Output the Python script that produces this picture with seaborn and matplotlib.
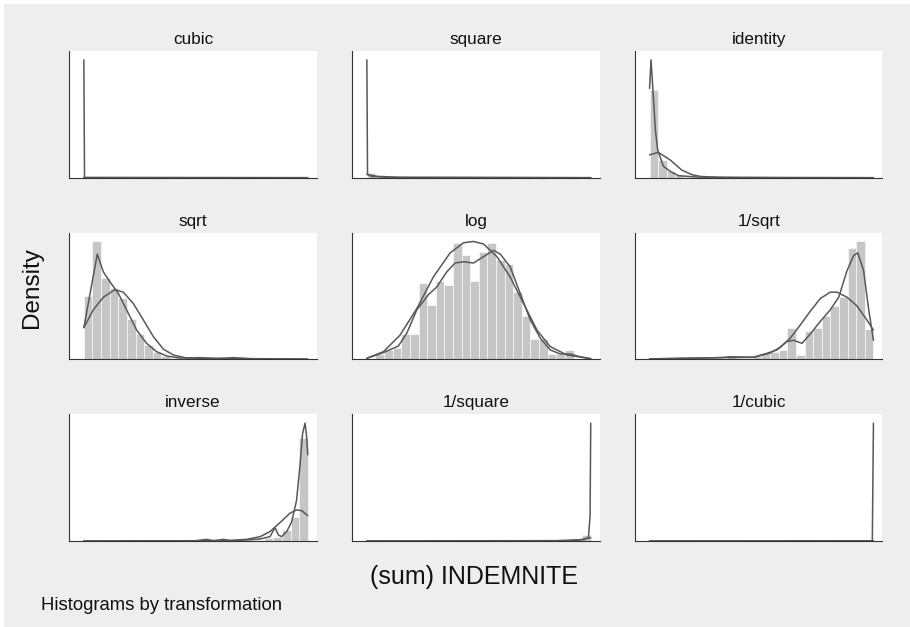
import matplotlib
matplotlib.use("Agg")
import matplotlib.pyplot as plt
import matplotlib.patches as mpatches
import numpy as np
import pandas as pd
import seaborn as sns

# panel order as in the reference grid
panels = ["cubic", "square", "identity", "sqrt", "log", "1/sqrt",
          "inverse", "1/square", "1/cubic"]

# histogram heights, 26 bins over the data range (share of panel height)
hist_cubic = [0, 0, 0, 0, 0, 0, 0, 0, 0, 0, 0, 0, 0,
              0, 0, 0, 0, 0, 0, 0, 0, 0, 0, 0, 0, 0]
hist_square = [0.037, 0.004, 0, 0, 0, 0, 0, 0, 0, 0, 0, 0, 0,
               0, 0, 0, 0, 0, 0, 0, 0, 0, 0, 0, 0, 0]
hist_identity = [0.69, 0.14, 0.05, 0.02, 0.008, 0.004, 0.003, 0.002, 0.001, 0.001, 0, 0, 0,
                 0, 0, 0, 0, 0, 0, 0, 0, 0, 0, 0, 0, 0]
hist_sqrt = [0.5, 0.93, 0.64, 0.56, 0.48, 0.32, 0.2, 0.11, 0.06, 0.026, 0.013, 0.005, 0.004,
             0.003, 0.008, 0.003, 0.002, 0.002, 0.006, 0.002, 0.001, 0.001, 0, 0, 0, 0]
hist_log = [0, 0.04, 0.07, 0.09, 0.2, 0.2, 0.6, 0.43, 0.62, 0.59, 0.92, 0.82, 0.62,
            0.85, 0.92, 0.78, 0.75, 0.53, 0.34, 0.16, 0.16, 0.04, 0.04, 0.07, 0, 0]
hist_isqrt = [0.002, 0.002, 0.002, 0.002, 0.002, 0.002, 0.002, 0.002, 0.01, 0.015, 0.01, 0.01, 0.025,
              0.047, 0.06, 0.074, 0.25, 0.034, 0.22, 0.25, 0.34, 0.42, 0.49, 0.88, 0.93, 0.24]
hist_inverse = [0, 0, 0, 0, 0, 0, 0, 0, 0, 0, 0, 0, 0,
                0, 0.002, 0.002, 0.003, 0.003, 0.003, 0.004, 0.008, 0.02, 0.034, 0.087, 0.19, 0.81]
hist_isquare = [0, 0, 0, 0, 0, 0, 0, 0, 0, 0, 0, 0, 0,
                0, 0, 0, 0, 0, 0, 0, 0, 0, 0, 0, 0.01, 0.05]
hist_icubic = [0, 0, 0, 0, 0, 0, 0, 0, 0, 0, 0, 0, 0,
               0, 0, 0, 0, 0, 0, 0, 0, 0, 0, 0, 0, 0]

# kernel density curves
kde_cubic_x = [0.0, 0.003, 0.05, 1.0]
kde_cubic_y = [0.93, 0.0, 0.0, 0.0]
kde_square_x = [0.0, 0.003, 0.02, 0.1, 1.0]
kde_square_y = [0.93, 0.03, 0.01, 0.002, 0.0]
kde_identity_x = [0.0, 0.0066, 0.017, 0.026, 0.036, 0.062, 0.092, 0.129, 0.211, 0.4, 0.7, 1.0]
kde_identity_y = [0.705, 0.93, 0.64, 0.376, 0.22, 0.09, 0.05, 0.016, 0.005, 0.002, 0.001, 0.0]
kde_sqrt_x = [0.0, 0.06, 0.087, 0.117, 0.154, 0.191, 0.236, 0.28, 0.325, 0.37, 0.429,
              0.519, 0.593, 0.668, 0.742, 1.0]
kde_sqrt_y = [0.25, 0.83, 0.69, 0.61, 0.52, 0.39, 0.23, 0.126, 0.06, 0.026, 0.01,
              0.013, 0.005, 0.013, 0.005, 0.002]
kde_log_x = [0.0, 0.074, 0.141, 0.178, 0.223, 0.275, 0.312, 0.357, 0.394, 0.432, 0.476, 0.521,
             0.566, 0.596, 0.64, 0.685, 0.73, 0.775, 0.819, 0.864, 0.909, 0.953, 1.0]
kde_log_y = [0.008, 0.053, 0.105, 0.205, 0.39, 0.51, 0.57, 0.69, 0.76, 0.77, 0.76, 0.81,
             0.86, 0.83, 0.73, 0.52, 0.31, 0.166, 0.074, 0.042, 0.042, 0.02, 0.005]
kde_isqrt_x = [0.0, 0.315, 0.36, 0.464, 0.524, 0.569, 0.613, 0.643, 0.681, 0.718, 0.763,
               0.807, 0.845, 0.882, 0.912, 0.93, 0.956, 0.979, 1.0]
kde_isqrt_y = [0.003, 0.013, 0.02, 0.016, 0.047, 0.074, 0.14, 0.15, 0.126, 0.2, 0.3,
               0.39, 0.49, 0.7, 0.82, 0.84, 0.7, 0.39, 0.15]
kde_inverse_x = [0.0, 0.5, 0.548, 0.58, 0.623, 0.66, 0.727, 0.787, 0.831, 0.854, 0.869,
                 0.883, 0.906, 0.928, 0.95, 0.965, 0.977, 0.988, 0.995, 1.0]
kde_inverse_y = [0.0, 0.002, 0.013, 0.002, 0.013, 0.002, 0.008, 0.016, 0.034, 0.105, 0.047,
                 0.034, 0.074, 0.15, 0.32, 0.59, 0.85, 0.93, 0.82, 0.68]
kde_isquare_x = [0.0, 0.9, 0.97, 0.99, 0.997, 1.0]
kde_isquare_y = [0.0, 0.002, 0.01, 0.03, 0.2, 0.93]
kde_icubic_x = [0.0, 0.995, 1.0]
kde_icubic_y = [0.0, 0.0, 0.93]

# normal density curves
norm_cubic_x = [0.0, 1.0]
norm_cubic_y = [0.002, 0.0]
norm_square_x = [0.0, 0.05, 0.15, 1.0]
norm_square_y = [0.025, 0.01, 0.003, 0.0]
norm_identity_x = [0.0, 0.039, 0.092, 0.144, 0.189, 0.226, 0.315, 0.6, 1.0]
norm_identity_y = [0.18, 0.2, 0.14, 0.06, 0.024, 0.01, 0.002, 0.0, 0.0]
norm_sqrt_x = [0.0, 0.042, 0.087, 0.139, 0.176, 0.221, 0.266, 0.31, 0.355, 0.4, 0.459, 1.0]
norm_sqrt_y = [0.25, 0.39, 0.49, 0.55, 0.53, 0.44, 0.31, 0.18, 0.08, 0.034, 0.01, 0.0]
norm_log_x = [0.0, 0.074, 0.148, 0.223, 0.297, 0.372, 0.432, 0.476, 0.521, 0.581, 0.64,
              0.7, 0.76, 0.819, 0.894, 1.0]
norm_log_y = [0.008, 0.06, 0.19, 0.4, 0.65, 0.84, 0.92, 0.93, 0.91, 0.81, 0.65,
              0.44, 0.23, 0.1, 0.034, 0.005]
norm_isqrt_x = [0.0, 0.315, 0.464, 0.539, 0.584, 0.628, 0.673, 0.718, 0.763, 0.807, 0.837,
                0.882, 0.927, 0.971, 1.0]
norm_isqrt_y = [0.003, 0.013, 0.016, 0.05, 0.095, 0.166, 0.27, 0.38, 0.48, 0.53, 0.53,
                0.49, 0.42, 0.31, 0.23]
norm_inverse_x = [0.0, 0.638, 0.727, 0.787, 0.831, 0.876, 0.921, 0.95, 0.973, 1.0]
norm_inverse_y = [0.0, 0.003, 0.013, 0.034, 0.074, 0.145, 0.22, 0.245, 0.24, 0.2]
norm_isquare_x = [0.0, 0.85, 0.95, 1.0]
norm_isquare_y = [0.0, 0.003, 0.01, 0.025]
norm_icubic_x = [0.0, 1.0]
norm_icubic_y = [0.0, 0.002]

hists = [hist_cubic, hist_square, hist_identity, hist_sqrt, hist_log,
         hist_isqrt, hist_inverse, hist_isquare, hist_icubic]
kdes = [(kde_cubic_x, kde_cubic_y), (kde_square_x, kde_square_y),
        (kde_identity_x, kde_identity_y), (kde_sqrt_x, kde_sqrt_y),
        (kde_log_x, kde_log_y), (kde_isqrt_x, kde_isqrt_y),
        (kde_inverse_x, kde_inverse_y), (kde_isquare_x, kde_isquare_y),
        (kde_icubic_x, kde_icubic_y)]
norms = [(norm_cubic_x, norm_cubic_y), (norm_square_x, norm_square_y),
         (norm_identity_x, norm_identity_y), (norm_sqrt_x, norm_sqrt_y),
         (norm_log_x, norm_log_y), (norm_isqrt_x, norm_isqrt_y),
         (norm_inverse_x, norm_inverse_y), (norm_isquare_x, norm_isquare_y),
         (norm_icubic_x, norm_icubic_y)]

sns.set_style("white")
plt.rcParams["font.family"] = ["Liberation Sans", "DejaVu Sans"]

W, H = 910, 627
fig = plt.figure(figsize=(W / 100, H / 100), dpi=100, facecolor="white")
fig.add_artist(mpatches.Rectangle((4 / W, 0), 1, 1 - 4 / H, transform=fig.transFigure,
                                  facecolor="#eeeeee", edgecolor="none", zorder=-10))

col_left = [69.3, 352.3, 635.0]
row_bottom = [177.7, 359.3, 541.0]
pw, ph = 247.4, 126.7

nbins = 26
centers = (np.arange(nbins) + 0.5) / nbins
line_color = "#585858"

for i, name in enumerate(panels):
    r, c = divmod(i, 3)
    ax = fig.add_axes([col_left[c] / W, 1 - row_bottom[r] / H, pw / W, ph / H])
    ax.set_facecolor("white")
    if sum(hists[i]) > 0:
        df = pd.DataFrame({"value": centers, "height": hists[i]})
        sns.histplot(data=df, x="value", weights="height", binwidth=1 / nbins,
                     binrange=(0, 1), stat="count", color="#c6c6c6",
                     edgecolor="white", linewidth=0.4, alpha=1, ax=ax)
    sns.lineplot(x=kdes[i][0], y=kdes[i][1], estimator=None, sort=False,
                 color=line_color, linewidth=1.1, ax=ax)
    sns.lineplot(x=norms[i][0], y=norms[i][1], estimator=None, sort=False,
                 color=line_color, linewidth=1.1, ax=ax)
    ax.set_xlim(-0.065, 1.04)
    ax.set_ylim(0, 1)
    ax.set_xticks([])
    ax.set_yticks([])
    ax.set_xlabel("")
    ax.set_ylabel("")
    for side in ["top", "right"]:
        ax.spines[side].set_visible(False)
    for side in ["left", "bottom"]:
        ax.spines[side].set_color("#333333")
        ax.spines[side].set_linewidth(0.8)
    ax.set_title(name, fontsize=12.3, pad=5, color="#111111")

fig.text(32 / W, 1 - 288 / H, "Density", rotation=90, ha="center", va="center",
         fontsize=17.5, color="#111111")
fig.text(474 / W, 1 - 577 / H, "(sum) INDEMNITE", ha="center", va="center",
         fontsize=18, color="#111111")
fig.text(41 / W, 1 - 605 / H, "Histograms by transformation", ha="left", va="center",
         fontsize=13.3, color="#111111")

fig.savefig("out.png", dpi=100, facecolor=fig.get_facecolor())
